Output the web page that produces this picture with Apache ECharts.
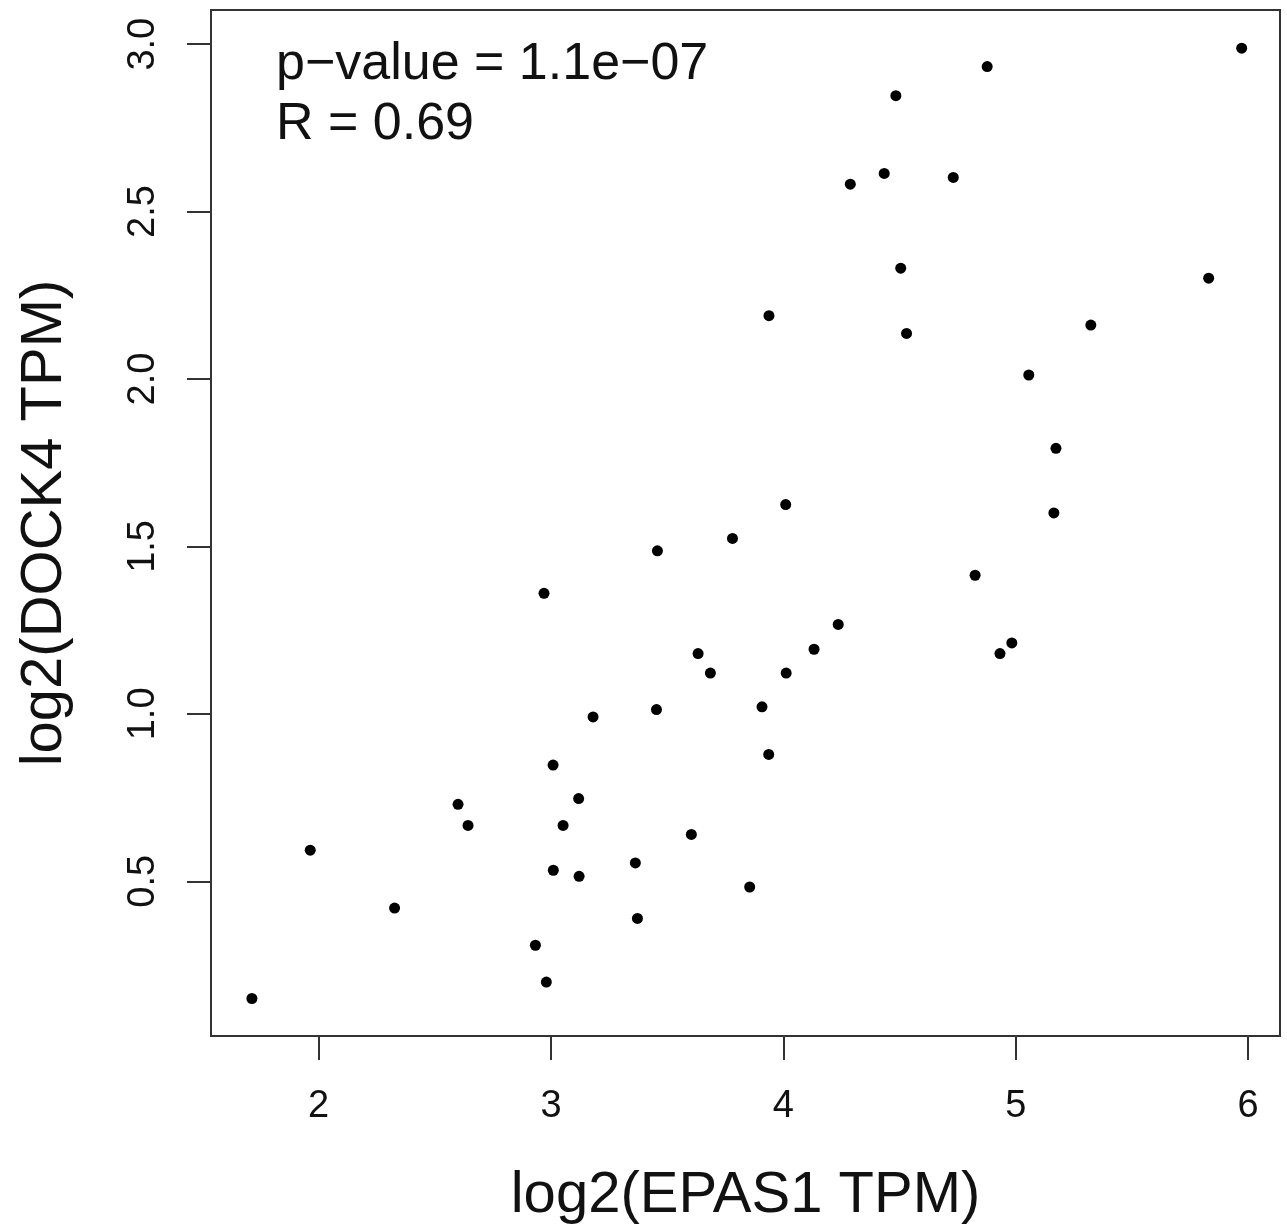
<!DOCTYPE html>
<html><head><meta charset="utf-8">
<script src="https://cdn.jsdelivr.net/npm/echarts@6/dist/echarts.min.js"></script>
<style>html,body{margin:0;padding:0;background:#fff}#c{width:1287px;height:1232px}</style>
</head><body><div id="c"></div>
<script>
// log2(EPAS1 TPM)
const epas1 = [5.972,4.877,4.484,4.434,4.288,4.731,4.505,5.830,4.530,5.323,5.056,3.938,5.173,5.164,4.825,4.983,4.932,4.010,3.781,3.458,2.970,4.236,4.132,3.633,3.686,4.012,3.908,3.454,3.181,3.937,3.009,3.119,2.600,2.643,3.052,3.604,3.363,3.010,3.121,3.855,3.372,2.933,2.980,1.964,2.327,1.713];
// log2(DOCK4 TPM)
const dock4 = [2.988,2.933,2.846,2.614,2.582,2.602,2.331,2.301,2.136,2.161,2.012,2.189,1.793,1.600,1.414,1.212,1.180,1.625,1.524,1.487,1.360,1.267,1.193,1.180,1.122,1.122,1.021,1.013,0.991,0.879,0.847,0.747,0.730,0.667,0.667,0.640,0.555,0.533,0.515,0.483,0.389,0.309,0.199,0.593,0.420,0.150];
const xTicks = [2,3,4,5,6];
const yTicks = [0.5,1.0,1.5,2.0,2.5,3.0];
const xName = 'log2(EPAS1 TPM)';
const yName = 'log2(DOCK4 TPM)';
const statLines = ['p\u2212value = 1.1e\u221207', 'R = 0.69'];

const FONT = '"Liberation Sans", Arial, Helvetica, sans-serif';
const ink = '#111';
const lineCol = '#333';
const chart = echarts.init(document.getElementById('c'), null, {renderer:'canvas'});
chart.setOption({
  animation:false,
  backgroundColor:'#fff',
  grid:{left:211, top:10, right:7, bottom:196, show:true, borderColor:lineCol, borderWidth:2, containLabel:false},
  xAxis:{
    type:'value', min:1.537, max:6.137,
    name:xName, nameLocation:'middle', nameGap:131,
    nameTextStyle:{fontFamily:FONT, fontSize:58, color:ink},
    axisLine:{show:true, lineStyle:{color:lineCol, width:2}},
    axisTick:{show:true, customValues:xTicks, length:24, inside:false, lineStyle:{color:lineCol, width:2}},
    axisLabel:{show:true, customValues:xTicks, margin:52, fontFamily:FONT, fontSize:38, color:ink, formatter:v=>String(v)},
    splitLine:{show:false}
  },
  yAxis:{
    type:'value', min:0.038, max:3.102,
    name:yName, nameLocation:'middle', nameGap:137, nameRotate:90,
    nameTextStyle:{fontFamily:FONT, fontSize:58, color:ink},
    axisLine:{show:true, lineStyle:{color:lineCol, width:2}},
    axisTick:{show:true, customValues:yTicks, length:24, inside:false, lineStyle:{color:lineCol, width:2}},
    axisLabel:{show:true, customValues:yTicks, rotate:90, margin:48, fontFamily:FONT, fontSize:38, color:ink, formatter:v=>v.toFixed(1)},
    splitLine:{show:false}
  },
  graphic:[
    {type:'text', left:276, top:39, style:{text:statLines[0], font:'52px '+FONT, fill:ink}},
    {type:'text', left:276, top:99, style:{text:statLines[1], font:'52px '+FONT, fill:ink}}
  ],
  series:[{
    type:'scatter', symbol:'circle', symbolSize:11,
    itemStyle:{color:'#000', opacity:1},
    data: epas1.map((x,i)=>[x, dock4[i]])
  }]
});
</script></body></html>
